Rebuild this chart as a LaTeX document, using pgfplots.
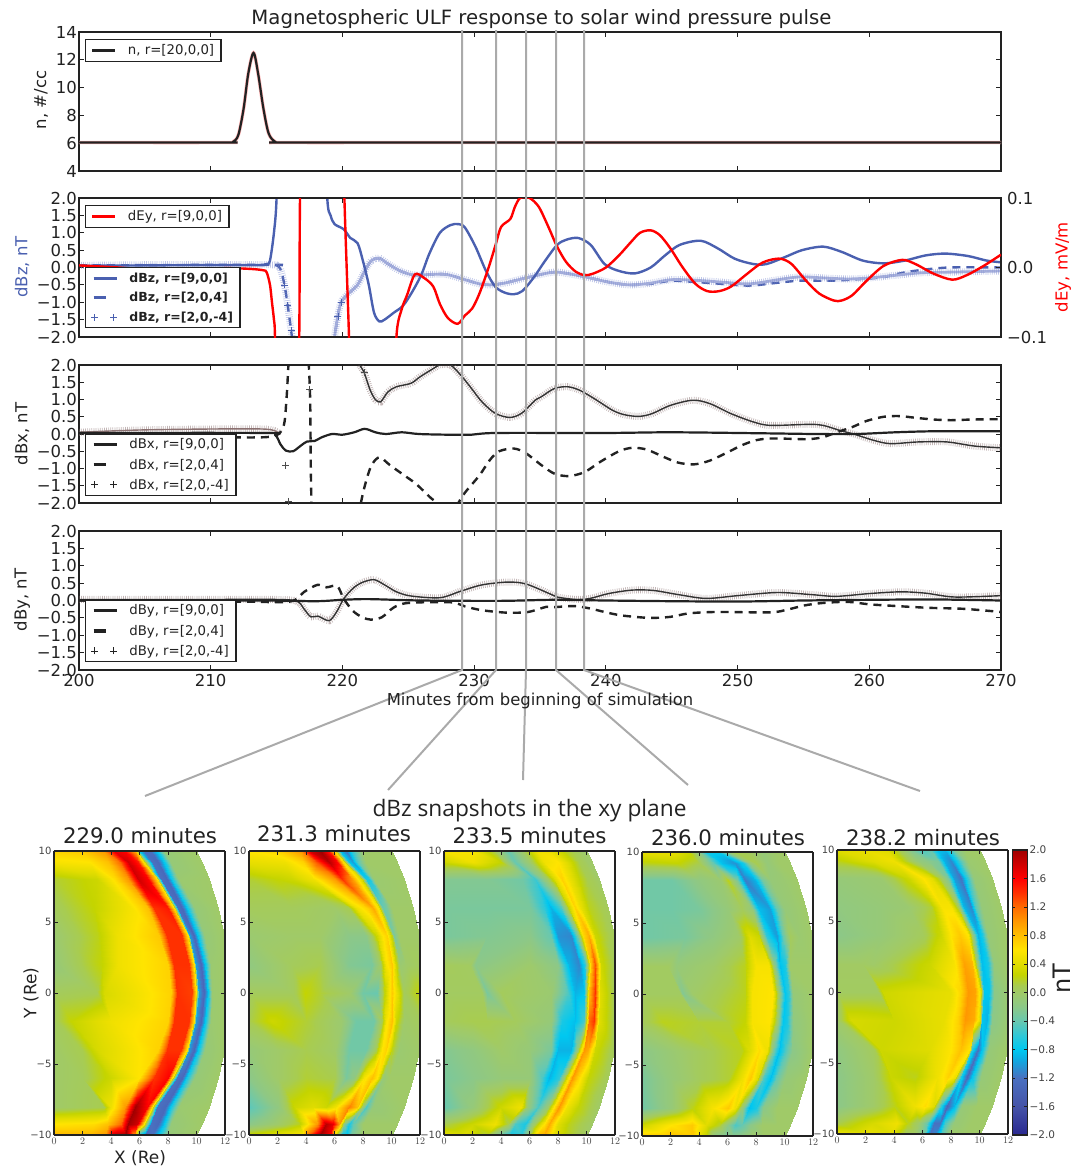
\documentclass[border=0pt]{standalone}
\usepackage{fontspec}
\usepackage{pgfplots}
\pgfplotsset{compat=1.18}
\setmainfont{DejaVu Sans}
\newfontfamily\snap{Open Sans}
\definecolor{ink}{HTML}{222222}
\definecolor{bz}{HTML}{4A60B0}
\definecolor{bzp}{HTML}{7F8ED0}
\definecolor{bzl}{HTML}{A9B2DD}
\definecolor{brn}{HTML}{8A7070}
\definecolor{grayl}{HTML}{AAAAAA}
\newcommand\fs[1]{\fontsize{#1}{#1}\selectfont}
\newcommand\lgsolid[1]{\addlegendimage{legend image code/.code={\draw[line width=3pt,#1](0pt,0pt)--(23pt,0pt);\path(33pt,0pt);}}}
\newcommand\lgdash[1]{\addlegendimage{legend image code/.code={\draw[line width=3.5pt,#1](0pt,0pt)--(12pt,0pt);\path(33pt,0pt);}}}
\newcommand\lgplus[1]{\addlegendimage{legend image code/.code={\draw[line width=.7pt,#1](-2.5pt,0pt)--(4.5pt,0pt)(1pt,-3.5pt)--(1pt,3.5pt)(16.5pt,0pt)--(23.5pt,0pt)(20pt,-3.5pt)--(20pt,3.5pt);\path(33pt,0pt);}}}
\pgfplotsset{
 top/.style={scale only axis,width=922pt,height=139pt,anchor=south west,
  xmin=200,xmax=270,xtick={200,210,...,270},xticklabels={},
  tick align=inside,major tick length=5pt,
  axis line style={line width=2pt,color=ink},
  every tick/.style={line width=.9pt,color=ink},
  tick label style={font=\fs{16.5},color=ink},
  yticklabel style={xshift=1.5pt},
  legend cell align=left,
  legend style={draw=ink,line width=1.5pt,fill=white,font=\fs{13.3},text=ink,
    row sep=4.5pt,inner xsep=5pt,inner ysep=3pt,cells={anchor=west}}},
 dby/.style={ymin=-2,ymax=2,ytick={-2,-1.5,...,2},
   yticklabels={−2.0,−1.5,−1.0,−0.5,0.0,0.5,1.0,1.5,2.0}},
 lg/.style={legend style={at={(0.0065,#1)},anchor=north west}},
 sol/.style={forget plot,smooth,line width=2.4pt,color=#1},
 das/.style={forget plot,smooth,line width=2.4pt,color=#1,dash pattern=on 8pt off 6pt},
 hat/.style={forget plot,smooth,line width=7pt,color=#1,opacity=.5,dash pattern=on .7pt off 1.4pt},
 thn/.style={forget plot,smooth,line width=1.4pt,color=#1},
 crs/.style={forget plot,only marks,mark=+,mark size=3.5pt,mark options={line width=.6pt,color=#1}},
 heat/.style={scale only axis,width=171pt,height=284pt,anchor=south west,view={0}{90},
  xmin=0,xmax=12,ymin=-10,ymax=10,zmin=-3,zmax=3,ztick=\empty,
  xtick={0,2,...,12},ytick={-10,-5,0,5,10},yticklabels={−10,−5,0,5,10},
  tick align=inside,major tick length=4pt,axis on top,
  axis line style={line width=1.5pt,color=ink},
  every tick/.style={line width=.8pt,color=ink},
  tick label style={font=\fs{10},color=ink!85},
  xticklabel style={yshift=.5pt},yticklabel style={xshift=1pt},
  colormap name=dbz,point meta=z,point meta min=-2,point meta max=2},
 htm/.style={surf,shader=interp,mesh/cols=12,mesh/rows=13},
 colormap={dbz}{rgb255(0pt)=(42,40,144) rgb255(4pt)=(70,84,168) rgb255(8pt)=(74,112,192)
  rgb255(10.5pt)=(16,168,224) rgb255(12pt)=(0,200,240) rgb255(14pt)=(48,200,216)
  rgb255(16pt)=(104,200,176) rgb255(18pt)=(140,200,136) rgb255(20pt)=(160,202,104)
  rgb255(21pt)=(168,204,80) rgb255(22.5pt)=(196,212,0) rgb255(24pt)=(224,220,0)
  rgb255(26pt)=(255,228,0) rgb255(28pt)=(255,192,0) rgb255(30pt)=(255,152,0)
  rgb255(32pt)=(255,106,0) rgb255(34pt)=(255,48,0) rgb255(36pt)=(255,0,0)
  rgb255(38pt)=(208,0,0) rgb255(40pt)=(160,0,0)},
}
\begin{document}
\begin{tikzpicture}
\path[use as bounding box] (0pt,0pt) rectangle (1084pt,-1168pt);

% ---------- panel 1
\begin{axis}[top,at={(79pt,-171pt)},ymin=4,ymax=14,ytick={4,6,...,14},yticklabels={4,6,8,10,12,14},lg=0.95]
\def\pl{(200,6.05)(211.2,6.05)(211.7,6.1)(212.1,6.6)(212.5,8.5)(212.85,11)(213.25,12.5)(213.6,11)(214,8.5)(214.4,6.7)(214.9,6.1)(215.5,6.05)(230,6.05)(270,6.05)}
\addplot[sol=red!30,line width=3.4pt] coordinates {\pl};
\addplot[sol=ink,line width=2.2pt] coordinates {\pl};
\lgsolid{color=ink}\addlegendentry{n, r=[20,0,0]}
\end{axis}

% ---------- panel 2, left scale
\begin{axis}[top,dby,at={(79pt,-337pt)},ytick pos=left]
\addplot[das=bz] coordinates {(200,0.06)(214.5,0.08)(215.05,0.05)(215.3,-0.05)(215.6,-0.5)(215.85,-1.1)(216.1,-1.8)(216.3,-2.4)};
\addplot[das=bz] coordinates {(219.2,-2.6)(219.4,-2)(219.65,-1.4)(219.9,-1)(220.45,-0.75)(221.15,-0.5)(221.7,-0.1)(222.2,0.2)(222.8,0.27)(223.4,0.12)(224.4,-0.1)(225.45,-0.22)(226.6,-0.2)(227.9,-0.2)(229.3,-0.35)(230.4,-0.47)(231.2,-0.5)(232.3,-0.45)(233.9,-0.3)(235.3,-0.18)(236.2,-0.13)(237.5,-0.2)(238.8,-0.3)(240.2,-0.42)(241.8,-0.5)(243.4,-0.47)(245,-0.38)(246.9,-0.42)(248.8,-0.47)(250.9,-0.52)(253,-0.44)(254.7,-0.38)(257,-0.38)(259,-0.34)(261,-0.28)(263,-0.12)(266,0)(270,0)};
\addplot[hat=bzp] coordinates {(200,0.06)(205,0.08)(210,0.08)(214.5,0.08)(215.05,0.05)(215.3,-0.05)(215.6,-0.5)(215.85,-1.1)(216.1,-1.8)(216.3,-2.4)};
\def\pl{(219.2,-2.6)(219.4,-2)(219.65,-1.4)(219.9,-1)(220.45,-0.75)(221.15,-0.5)(221.7,-0.1)(222.2,0.2)(222.8,0.27)(223.4,0.12)(224.4,-0.1)(225.45,-0.22)(226.6,-0.2)(227.9,-0.2)(229.3,-0.35)(230.4,-0.47)(231.2,-0.5)(232.3,-0.45)(233.9,-0.3)(235.3,-0.18)(236.2,-0.13)(237.5,-0.2)(238.8,-0.3)(240.2,-0.42)(241.8,-0.5)(243.4,-0.45)(245,-0.35)(246.9,-0.37)(248.8,-0.42)(250.9,-0.47)(253.1,-0.35)(254.7,-0.27)(256.5,-0.3)(258.4,-0.33)(260,-0.3)(262.1,-0.22)(264,-0.15)(266.5,-0.13)(270,-0.1)}
\addplot[thn=bzl,line width=2.8pt] coordinates {\pl};
\addplot[hat=bzp] coordinates {\pl};
\addplot[crs=bz] coordinates {(215.6,-0.5)(215.85,-1.1)(216.1,-1.8)(219.65,-1.4)(219.9,-1)};
\addplot[sol=bz] coordinates {(200,0.05)(210,0.07)(214,0.07)(214.25,0.1)(214.5,0.2)(214.8,1)(215,2)(215.2,5)(218.6,5)(218.85,2)(219.1,1.5)(219.4,1.25)(220.1,1.1)(220.6,0.85)(221.15,0.7)(221.55,0.2)(222,-0.5)(222.4,-1.3)(222.8,-1.55)(223.2,-1.5)(223.9,-1.3)(224.6,-1.1)(225.3,-0.7)(226,-0.2)(226.6,0.4)(227.4,1)(228.2,1.22)(228.8,1.25)(229.3,1.15)(230.1,0.6)(230.9,-0.1)(231.6,-0.55)(232.3,-0.72)(233,-0.77)(233.65,-0.68)(234.5,-0.3)(235.4,0.2)(236.3,0.65)(237,0.8)(237.9,0.85)(238.85,0.65)(239.9,0.1)(241,-0.1)(242.2,-0.17)(243.4,0)(244.5,0.35)(245.6,0.65)(247.2,0.77)(248.5,0.55)(249.8,0.25)(251.2,0.1)(252.2,0.1)(253.6,0.3)(254.9,0.5)(256.5,0.6)(257.9,0.45)(259.5,0.2)(261.1,0.12)(262.7,0.2)(264.3,0.35)(265.8,0.4)(267.5,0.33)(268.9,0.2)(270,0.15)};
\end{axis}

% ---------- panel 2, right scale
\begin{axis}[top,at={(79pt,-337pt)},ymin=-0.1,ymax=0.1,ytick={-0.1,0,0.1},yticklabels={−0.1,0.0,0.1},
  ytick pos=right,xmajorticks=false,yticklabel style={xshift=1pt},lg=0.95]
\addplot[sol=red,line width=2.4pt] coordinates {(200,0.003)(203,0)(205,-0.003)(208,-0.004)(211,-0.001)(213,-0.002)(214,-0.004)(214.25,-0.007)(214.5,-0.025)(214.65,-0.05)(214.8,-0.075)(214.88,-0.1)(215,-0.25)(216.5,-0.25)(216.72,-0.1)(216.78,0.1)(217,0.25)(220,0.25)(220.15,0.1)(220.5,-0.1)(220.7,-0.25)(223.9,-0.25)(224.1,-0.1)(224.5,-0.06)(224.9,-0.04)(225.5,-0.01)(226.2,-0.015)(226.9,-0.0275)(227.4,-0.0525)(228,-0.0725)(228.75,-0.081)(229.3,-0.069)(229.85,-0.059)(230.4,-0.0375)(231.1,0)(231.65,0.034)(232.05,0.0585)(232.75,0.07)(233.1,0.0875)(233.5,0.1)(234.2,0.1)(234.9,0.0875)(235.6,0.06)(236.3,0.03)(237,0.0075)(237.75,-0.0065)(238.4,-0.011)(239,-0.009)(240,0)(241,0.0175)(241.9,0.0365)(242.6,0.05)(243.4,0.0535)(244.1,0.0465)(244.9,0.0275)(245.8,0.001)(246.8,-0.0235)(247.7,-0.034)(248.6,-0.034)(249.5,-0.0275)(250.6,-0.011)(251.7,0.005)(252.5,0.011)(253.3,0.0125)(254.1,0.005)(255.2,-0.019)(256.2,-0.0375)(257.3,-0.0475)(257.9,-0.0475)(258.7,-0.04)(259.8,-0.019)(261.1,0.0025)(262.5,0.011)(263.5,0.005)(264.9,-0.009)(266.3,-0.0175)(267.4,-0.011)(268.7,0.0025)(270,0.0185)};
\lgsolid{color=red}\addlegendentry{dEy, r=[9,0,0]}
\end{axis}
% legend of the blue series, above the red line
\begin{axis}[top,at={(79pt,-337pt)},hide axis,ymin=-2,ymax=2,lg=0.504,legend style={font=\fs{12.5}\bfseries}]
\lgsolid{color=bz}\addlegendentry{dBz, r=[9,0,0]}
\lgdash{color=bz}\addlegendentry{dBz, r=[2,0,4]}
\lgplus{color=bz}\addlegendentry{dBz, r=[2,0,-4]}
\end{axis}

% ---------- panel 3
\begin{axis}[top,dby,at={(79pt,-503pt)},height=138pt,lg=0.507]
\addplot[hat=brn] coordinates {(200,0.05)(205,0.12)(212,0.15)(214.5,0.13)(215.3,0)};
\addplot[thn=brn] coordinates {(200,0.05)(205,0.12)(212,0.15)(214.5,0.13)(215.3,0)};
\def\pl{(221.3,2)(221.65,1.78)(222.1,1.28)(222.5,1)(222.9,0.93)(223.45,1.22)(224.1,1.37)(225.2,1.47)(225.9,1.66)(226.7,1.85)(227.4,2)(228.2,2)(229,1.7)(229.8,1.32)(230.6,0.93)(231.6,0.6)(232.7,0.48)(233.6,0.6)(234.7,1)(235.1,1.08)(236.1,1.32)(237.1,1.37)(238,1.27)(239.1,1.03)(240.5,0.69)(241.4,0.56)(242.5,0.51)(243.5,0.59)(244.9,0.83)(246.6,0.98)(247.9,0.88)(249.5,0.59)(251.2,0.35)(252.5,0.25)(255.4,0.28)(256.5,0.25)(257.8,0.1)(258.9,-0.01)(260.3,-0.18)(261.6,-0.28)(263.7,-0.23)(265.9,-0.23)(268,-0.35)(270,-0.4)}
\addplot[hat=brn] coordinates {\pl};
\addplot[thn=black!80] coordinates {\pl};
\addplot[crs=black!70] coordinates {(215.7,-0.9)(215.9,-1.95)(217.5,1.3)(221.65,1.78)};
\addplot[das=ink] coordinates {(200,0.03)(205,0)(210,-0.08)(214.5,-0.08)(215.5,0.2)(215.75,1)(215.9,2)(216,2.5)};
\addplot[das=ink] coordinates {(217.4,2.5)(217.45,2)(217.55,1)(217.6,-1)(217.65,-2)(217.7,-2.5)};
\addplot[das=ink] coordinates {(221.25,-2.4)(221.4,-2)(221.7,-1.5)(222.1,-1)(222.5,-0.75)(222.9,-0.68)(223.6,-0.9)(224.7,-1.2)(225.6,-1.45)(226.7,-1.85)(227.2,-2)(227.7,-2.3)(228.4,-2.3)(228.8,-2)(229.3,-1.7)(230.4,-1.2)(231.2,-0.75)(231.9,-0.5)(233,-0.42)(233.9,-0.55)(235.1,-0.9)(236.1,-1.15)(237.2,-1.22)(238.4,-1.1)(239.6,-0.8)(241,-0.5)(242,-0.4)(243.1,-0.45)(244.3,-0.65)(245.5,-0.83)(246.7,-0.88)(247.9,-0.77)(249.3,-0.52)(250.3,-0.33)(251.4,-0.18)(252.5,-0.13)(254.1,-0.14)(255.4,-0.15)(256.5,-0.09)(257.6,0.06)(258.7,0.2)(259.8,0.38)(261.1,0.5)(262.3,0.52)(263.5,0.47)(264.9,0.42)(266.2,0.4)(267.8,0.42)(270,0.43)};
\addplot[sol=ink,line width=2.2pt] coordinates {(200,0.03)(214,0.03)(214.9,-0.03)(215.3,-0.3)(215.7,-0.48)(216.25,-0.5)(216.8,-0.35)(217.3,-0.22)(217.9,-0.2)(218.4,-0.1)(219.2,0)(220,-0.02)(220.9,0.05)(221.7,0.15)(222.5,0.05)(223.3,0)(224.5,0.05)(225.8,0)(228,-0.02)(229.8,-0.02)(231.7,0.03)(240,0.03)(245,0.05)(252,0.02)(256,0)(259,0)(262,0.05)(265,0.08)(270,0.08)};
\lgsolid{color=ink}\addlegendentry{dBx, r=[9,0,0]}
\lgdash{color=ink}\addlegendentry{dBx, r=[2,0,4]}
\lgplus{color=ink}\addlegendentry{dBx, r=[2,0,-4]}
\end{axis}

% ---------- panel 4
\begin{axis}[top,dby,at={(79pt,-670pt)},lg=0.51,xticklabels={200,210,220,230,240,250,260,270},xticklabel style={yshift=-1pt}]
\def\pl{(200,0.03)(210,0.03)(215,0.03)(216.55,-0.02)(217.1,-0.25)(217.6,-0.47)(218.15,-0.45)(219,-0.58)(219.6,-0.3)(220.1,0.05)(220.8,0.35)(221.5,0.52)(222.4,0.6)(223.2,0.45)(224.1,0.25)(225.2,0.13)(227.4,0.08)(229,0.27)(230.6,0.45)(232.5,0.53)(233.9,0.48)(235.7,0.2)(236.3,0.1)(237.7,0.03)(238.8,0.06)(240.2,0.2)(242,0.3)(243.6,0.29)(245.5,0.17)(247.6,0.06)(250,0.14)(253,0.23)(255.6,0.17)(257.5,0.12)(260,0.2)(262.4,0.25)(264.3,0.21)(266.5,0.1)(270,0.14)}
\addplot[hat=brn] coordinates {\pl};
\addplot[thn=black!80] coordinates {\pl};
\addplot[das=ink] coordinates {(200,0)(212,-0.03)(216,-0.03)(217.1,0.25)(218.1,0.45)(218.8,0.38)(219.6,0.42)(220.1,0.05)(220.8,-0.3)(221.5,-0.48)(222.15,-0.55)(223,-0.48)(223.9,-0.2)(225,-0.07)(228.2,-0.05)(229.3,-0.17)(230.6,-0.28)(232.5,-0.35)(234.1,-0.33)(235.5,-0.18)(236.1,-0.19)(237.6,-0.16)(238.8,-0.23)(239.9,-0.33)(241.2,-0.43)(243.3,-0.5)(244.9,-0.47)(246.3,-0.37)(248.4,-0.33)(252.5,-0.34)(253.8,-0.26)(255.1,-0.14)(256.5,-0.07)(258.4,-0.04)(260,-0.11)(262.1,-0.16)(264.5,-0.21)(267.2,-0.24)(270,-0.33)};
\addplot[sol=ink,line width=2.2pt] coordinates {(200,0)(214,0)(218,-0.02)(220,0.02)(222,0.04)(226,0)(232,-0.01)(236,0.02)(240,0)(245,-0.02)(250,-0.03)(255,0)(260,0.02)(265,0.03)(270,0)};
\lgsolid{color=ink}\addlegendentry{dBy, r=[9,0,0]}
\lgdash{color=ink}\addlegendentry{dBy, r=[2,0,4]}
\lgplus{color=ink}\addlegendentry{dBy, r=[2,0,-4]}
\end{axis}

% ---------- snapshots
\begin{axis}[heat,at={(54pt,-1135pt)}]
\addplot3[htm] table[row sep=\\,header=false]{
0 10 .7\\2 10 .75\\3.5 10 1\\4.2 10 1.7\\5 10 1.6\\5.7 10 .9\\6 10 -.7\\6.3 10 -1.2\\6.8 10 -1.2\\7.3 10 -.7\\7.7 10 -.1\\10 10 0\\
0 9.2 .55\\2.5 9.2 .6\\3.8 9.2 .8\\4.6 9.2 1.2\\5.2 9.2 1.8\\5.9 9.2 1.5\\6.4 9.2 .3\\6.9 9.2 -1.2\\7.3 9.2 -1.3\\7.7 9.2 -.8\\8.2 9.2 -.1\\10.4 9.2 0\\
0 8 .15\\3 8 .3\\4.3 8 .65\\5.2 8 1\\5.9 8 1.8\\6.6 8 1.6\\7.2 8 .6\\7.5 8 -1.2\\7.9 8 -1.3\\8.3 8 -.7\\8.8 8 -.05\\10.9 8 0\\
0 6 .05\\2.8 6 .25\\5.5 6 .55\\6.6 6 .8\\7 6 1.4\\8 6 1.5\\8.4 6 .6\\8.7 6 -1.2\\9 6 -1.3\\9.4 6 -.7\\9.9 6 -.1\\11.5 6 0\\
0 4 -.05\\3 4 .2\\4.5 4 .5\\7.4 4 .75\\7.9 4 1.4\\9 4 1.4\\9.4 4 .6\\9.55 4 -1\\9.8 4 -1.3\\10.1 4 -.8\\10.6 4 -.1\\11.9 4 0\\
0 2 -.1\\3.4 2 .25\\4.5 2 .5\\8 2 .7\\8.4 2 1.4\\9.5 2 1.4\\9.85 2 .6\\10 2 -1\\10.3 2 -1.3\\10.6 2 -.8\\11 2 -.05\\12 2 0\\
0 0 .05\\3 0 .1\\3.5 0 .35\\8.2 0 .7\\8.6 0 1.4\\9.7 0 1.35\\10 0 .6\\10.2 0 -1\\10.5 0 -1.3\\10.8 0 -.8\\11.1 0 -.05\\12 0 0\\
0 -2 .05\\1.2 -2 .25\\4 -2 .5\\8 -2 .7\\8.4 -2 1.4\\9.5 -2 1.4\\9.85 -2 .6\\10 -2 -1\\10.3 -2 -1.3\\10.6 -2 -.8\\11 -2 -.05\\12 -2 0\\
0 -4 0\\2 -4 .1\\3 -4 .35\\7.3 -4 .7\\7.9 -4 1.4\\8.9 -4 1.4\\9.35 -4 .6\\9.5 -4 -1\\9.8 -4 -1.3\\10.1 -4 -.8\\10.6 -4 -.1\\11.9 -4 0\\
0 -6 0\\2 -6 .05\\4 -6 .3\\6 -6 .6\\7 -6 1.4\\8 -6 1.6\\8.3 -6 .6\\8.6 -6 -1.2\\8.95 -6 -1.3\\9.3 -6 -.7\\9.9 -6 -.1\\11.5 -6 0\\
0 -8 0\\3.5 -8 .1\\4 -8 .5\\5 -8 1\\5.7 -8 2\\6.5 -8 1.6\\6.9 -8 .6\\7.2 -8 -1.2\\7.8 -8 -1.3\\8.2 -8 -.7\\8.8 -8 -.05\\10.9 -8 0\\
0 -9.2 .6\\2.8 -9.2 .65\\3.8 -9.2 .8\\4.7 -9.2 1.2\\5.2 -9.2 2\\5.8 -9.2 1.8\\6.3 -9.2 .6\\6.8 -9.2 -1.2\\7.3 -9.2 -1.3\\7.7 -9.2 -.8\\8.2 -9.2 -.1\\10.4 -9.2 0\\
0 -10 .85\\2.5 -10 .85\\3.6 -10 1\\4.2 -10 1.9\\5 -10 2\\5.6 -10 1\\6 -10 -.7\\6.4 -10 -1.3\\6.9 -10 -1.2\\7.4 -10 -.7\\8 -10 -.1\\10 -10 0\\
};
\end{axis}

\begin{axis}[heat,at={(249pt,-1135pt)}]
\addplot3[htm] table[row sep=\\,header=false]{
0 10 .6\\2 10 .7\\3.6 10 1\\4.3 10 1.8\\5 10 2\\5.6 10 1.5\\6 10 .5\\6.4 10 -.8\\6.8 10 -1.2\\7.2 10 -.6\\8 10 0\\10 10 0\\
0 9.2 .45\\2.5 9.2 .5\\3.8 9.2 .7\\4.8 9.2 1.3\\5.6 9.2 1.9\\6.2 9.2 1.6\\6.7 9.2 .5\\7 9.2 -.8\\7.3 9.2 -1\\7.6 9.2 -.5\\8.2 9.2 0\\10.4 9.2 0\\
0 8 .15\\2 8 .25\\3 8 .3\\4.5 8 .5\\6 8 1\\6.5 8 1.4\\7.2 8 1\\7.9 8 .3\\8.2 8 -.7\\8.4 8 -.7\\8.8 8 -.05\\10.9 8 0\\
0 6 .05\\3 6 .05\\6 6 0\\7 6 .1\\7.6 6 .5\\8.3 6 .7\\8.7 6 .9\\9.1 6 .5\\9.4 6 -.4\\9.7 6 -.3\\10 6 0\\11.5 6 0\\
0 4 -.05\\3 4 0\\5 4 0\\7 4 -.2\\8.2 4 -.2\\9 4 .3\\9.4 4 .6\\9.7 4 .7\\10 4 .2\\10.2 4 -.3\\10.5 4 0\\11.9 4 0\\
0 2 -.15\\3 2 .05\\5 2 .1\\7 2 -.25\\8.6 2 -.3\\9.2 2 0\\9.6 2 .55\\10 2 .75\\10.3 2 .3\\10.6 2 -.05\\11 2 0\\12 2 .05\\
0 0 .05\\3.1 0 .05\\3.9 0 .25\\5 0 .15\\7 0 0\\8 0 -.35\\9 0 -.4\\9.5 0 .2\\10 0 .75\\10.3 0 .5\\10.9 0 .05\\12 0 .25\\
0 -2 .1\\1.6 -2 .3\\4 -2 .15\\6.5 -2 -.05\\7.5 -2 -.35\\8.8 -2 -.35\\9.3 -2 .1\\9.6 -2 .55\\10 -2 .8\\10.3 -2 .3\\10.9 -2 0\\12 -2 .05\\
0 -4 -.1\\2 -4 0\\4 -4 .1\\6 -4 0\\7 -4 -.35\\8.2 -4 -.35\\8.9 -4 .1\\9.3 -4 .6\\9.6 -4 .7\\10 -4 .2\\10.5 -4 -.05\\11.9 -4 0\\
0 -6 -.2\\2 -6 0\\4 -6 .15\\6 -6 .1\\6.8 -6 -.3\\7.4 -6 -.15\\8.1 -6 .55\\8.6 -6 .8\\9 -6 .6\\9.4 -6 -.1\\9.8 -6 0\\11.5 -6 0\\
0 -8 -.45\\2 -8 -.15\\3.2 -8 .3\\4.5 -8 .4\\5.4 -8 .3\\6 -8 .5\\7 -8 1.1\\7.6 -8 .8\\7.9 -8 0\\8.2 -8 -.5\\8.7 -8 -.1\\10.9 -8 0\\
0 -9.2 -.2\\2 -9.2 0\\3.5 -9.2 .2\\4.8 -9.2 1\\5.4 -9.2 1.9\\5.9 -9.2 1.7\\6.3 -9.2 1\\6.7 -9.2 -.2\\7 -9.2 -.7\\7.3 -9.2 -.4\\8 -9.2 0\\10.4 -9.2 0\\
0 -10 .3\\2.5 -10 .5\\3.8 -10 .6\\4.3 -10 1.3\\5 -10 2\\5.7 -10 1.6\\6 -10 .4\\6.5 -10 -.7\\6.8 -10 -.8\\7.2 -10 -.3\\8 -10 0\\10 -10 0\\
};
\end{axis}

\begin{axis}[heat,at={(444pt,-1135pt)}]
\addplot3[htm] table[row sep=\\,header=false]{
0 10 .55\\2 10 .55\\3.5 10 .1\\4.5 10 -.4\\5.5 10 0\\6.5 10 .5\\7.4 10 .5\\8.5 10 .2\\9.3 10 .05\\9.6 10 0\\9.8 10 0\\10 10 0\\
0 9.2 .3\\2 9.2 .5\\4 9.2 .25\\5 9.2 -.4\\6 9.2 0\\7 9.2 .5\\8 9.2 .6\\8.9 9.2 .3\\9.5 9.2 .1\\9.8 9.2 .05\\10.1 9.2 0\\10.4 9.2 0\\
0 8 -.25\\3 8 -.25\\5.5 8 -.35\\6.4 8 -.55\\7.1 8 -.1\\7.8 8 .4\\8.3 8 .7\\8.8 8 .5\\9.5 8 .25\\10 8 .1\\10.5 8 .05\\10.9 8 0\\
0 6 -.3\\3 6 -.3\\6 6 -.3\\7 6 -.6\\7.5 6 -.9\\8.2 6 -.5\\8.8 6 .3\\9.2 6 .7\\9.6 6 .45\\10.2 6 .2\\11 6 .1\\11.5 6 .05\\
0 4 -.3\\3 4 -.25\\6 4 -.2\\7.5 4 -.4\\8 4 -1.05\\8.9 4 -1.1\\9.3 4 -.4\\9.8 4 .7\\10.2 4 .9\\10.6 4 .3\\11.2 4 .15\\11.9 4 .05\\
0 2 .05\\1.8 2 .03\\2.2 2 -.2\\6 2 -.02\\8 2 -.2\\8.8 2 -.9\\9.5 2 -1.1\\9.9 2 -.6\\10.3 2 .8\\10.6 2 1.3\\11 2 .3\\12 2 .05\\
0 0 .03\\2.7 0 .03\\3 0 -.3\\4 0 .05\\7.5 0 -.05\\8.7 0 -.5\\9.2 0 -.9\\9.8 0 -.8\\10.2 0 .8\\10.6 0 1.4\\10.95 0 .4\\12 0 .05\\
0 -2 .05\\2 -2 .1\\3 -2 .1\\5 -2 .05\\7.5 -2 -.1\\8.3 -2 -.7\\9.2 -2 -.85\\9.8 -2 -.5\\10.2 -2 1.2\\10.5 -2 1.4\\10.9 -2 .4\\12 -2 .05\\
0 -4 -.25\\2 -4 -.15\\4 -4 0\\6 -4 -.1\\7.5 -4 -.3\\8 -4 -.9\\8.9 -4 -.9\\9.3 -4 -.1\\9.8 -4 1\\10.1 -4 .9\\10.6 -4 .3\\11.9 -4 .05\\
0 -6 -.3\\2 -6 -.2\\4 -6 -.1\\6 -6 -.1\\6.9 -6 -.5\\7.4 -6 -.9\\8.1 -6 -.6\\8.6 -6 .4\\9 -6 1\\9.4 -6 .7\\10.1 -6 .25\\11.5 -6 .05\\
0 -8 -.4\\2 -8 -.1\\4 -8 .3\\5.4 -8 .5\\5.9 -8 -.1\\6.6 -8 -.5\\7.2 -8 -.1\\7.7 -8 .6\\8.1 -8 1\\8.6 -8 .5\\9.4 -8 .25\\10.9 -8 0\\
0 -9.2 .1\\2 -9.2 .3\\3.6 -9.2 .5\\4.5 -9.2 .1\\5 -9.2 -.5\\5.7 -9.2 -.7\\6.2 -9.2 -.1\\7 -9.2 .6\\7.4 -9.2 .9\\8 -9.2 .4\\8.8 -9.2 .2\\10.4 -9.2 0\\
0 -10 .45\\1.5 -10 .4\\3 -10 .15\\4 -10 -.4\\4.6 -10 -.7\\5.4 -10 -.6\\6 -10 .1\\6.6 -10 .8\\7 -10 .9\\7.8 -10 .4\\8.6 -10 .2\\10 -10 0\\
};
\end{axis}

\begin{axis}[heat,at={(642pt,-1136pt)}]
\addplot3[htm] table[row sep=\\,header=false]{
0 10 .45\\2 10 .45\\3.2 10 .3\\4 10 -.2\\4.5 10 -.7\\5.3 10 -.75\\6 10 -.1\\6.5 10 .1\\7.5 10 .05\\8.5 10 -.1\\9.5 10 0\\10 10 0\\
0 9.2 .2\\2.5 9.2 .25\\4 9.2 .1\\5 9.2 -.4\\5.6 9.2 -.85\\6.5 9.2 -1.05\\7.1 9.2 -.7\\7.6 9.2 -.1\\8 9.2 .1\\8.8 9.2 -.1\\9.6 9.2 0\\10.4 9.2 0\\
0 8 -.35\\2 8 -.35\\4 8 -.15\\5.5 8 -.05\\6 8 .2\\6.7 8 -.3\\7.2 8 -1.15\\7.9 8 -.9\\8.5 8 -.3\\9 8 -.1\\10 8 -.05\\10.9 8 0\\
0 6 -.35\\2 6 -.35\\4 6 -.3\\6 6 -.1\\7 6 .05\\7.7 6 -.1\\8.2 6 -.85\\9 6 -1\\9.5 6 -.4\\10 6 -.1\\10.8 6 -.05\\11.5 6 0\\
0 4 -.35\\3 4 -.3\\5 4 -.15\\6.8 4 0\\7.6 4 .4\\8.2 4 .3\\8.8 4 -.6\\9.5 4 -1\\9.9 4 -.4\\10.4 4 .05\\11 4 -.05\\11.9 4 0\\
0 2 .03\\1.8 2 .03\\2.4 2 -.1\\5 2 0\\7.2 2 .2\\8 2 .55\\8.9 2 .55\\9.3 2 -.2\\9.7 2 -.85\\10 2 -.7\\10.4 2 0\\12 2 0\\
0 0 .03\\2.7 0 .03\\2.9 0 -.25\\3.6 0 0\\7.2 0 .2\\7.7 0 .55\\9.2 0 .6\\9.7 0 -.2\\10 0 -.8\\10.3 0 -.6\\10.6 0 -.1\\12 0 0\\
0 -2 .05\\1.5 -2 .2\\4 -2 .15\\6 -2 .15\\7.2 -2 .25\\7.7 -2 .55\\9 -2 .6\\9.5 -2 0\\9.9 -2 -.8\\10.2 -2 -.7\\10.6 -2 -.15\\12 -2 0\\
0 -4 -.2\\3 -4 0\\5 -4 .1\\7 -4 .2\\7.6 -4 .4\\8.2 -4 .65\\8.8 -4 .5\\9.2 -4 -.3\\9.6 -4 -.85\\10 -4 -.5\\10.5 -4 -.2\\11.9 -4 0\\
0 -6 -.3\\2 -6 -.1\\4 -6 .05\\6 -6 .15\\7 -6 .5\\7.6 -6 .75\\8.1 -6 .4\\8.5 -6 -.5\\9 -6 -.85\\9.4 -6 -.4\\10 -6 -.1\\11.5 -6 0\\
0 -8 -.35\\2 -8 -.1\\3.5 -8 .2\\5 -8 .55\\6 -8 .75\\6.5 -8 .5\\7 -8 -.1\\7.5 -8 -.85\\8 -8 -.7\\8.5 -8 -.2\\9.5 -8 0\\10.9 -8 0\\
0 -9.2 .3\\2 -9.2 .6\\3.5 -9.2 .75\\4.5 -9.2 .4\\5.5 -9.2 .15\\6 -9.2 -.2\\6.5 -9.2 -.5\\7 -9.2 -.4\\7.6 -9.2 -.2\\8.4 -9.2 0\\9.5 -9.2 0\\10.4 -9.2 0\\
0 -10 .75\\2 -10 .8\\3.6 -10 .75\\4.5 -10 .25\\5.2 -10 -.2\\5.8 -10 -.3\\6.3 -10 -.2\\7 -10 -.15\\7.8 -10 0\\8.5 -10 0\\9.5 -10 0\\10 -10 0\\
};
\end{axis}

\begin{axis}[heat,at={(837pt,-1134pt)},colorbar,
  colorbar style={at={(1.024,1)},anchor=north west,width=15pt,height=285pt,
    ytick={-2,-1.6,...,2.01},yticklabels={−2.0,−1.6,−1.2,−0.8,−0.4,0.0,0.4,0.8,1.2,1.6,2.0},
    major tick length=3pt,yticklabel style={font=\fs{10.5},color=ink!85,xshift=-1pt},
    axis line style={line width=1.2pt,color=ink}}]
\addplot3[htm] table[row sep=\\,header=false]{
0 10 .4\\2 10 .45\\3.5 10 .4\\4.5 10 .05\\5.2 10 -.25\\5.8 10 -.5\\6.6 10 -.4\\7 10 -.8\\7.6 10 -.9\\8.2 10 -.3\\9 10 0\\10 10 0\\
0 9.2 .2\\2.5 9.2 .4\\4 9.2 .5\\4.8 9.2 .2\\5.7 9.2 -.1\\6.4 9.2 -.2\\7.1 9.2 -.3\\7.5 9.2 -.9\\8 9.2 -1.1\\8.6 9.2 -.5\\9.2 9.2 -.05\\10.4 9.2 0\\
0 8 -.1\\3 8 -.05\\5 8 .3\\6 8 .6\\6.6 8 .45\\7.2 8 .1\\7.8 8 -.3\\8.2 8 -1\\8.7 8 -1.2\\9.1 8 -.6\\9.6 8 -.1\\10.9 8 0\\
0 6 -.15\\3 6 -.1\\5 6 -.05\\6.6 6 .15\\7.4 6 .55\\8 6 .55\\8.5 6 .1\\8.9 6 -.9\\9.4 6 -1.1\\9.7 6 -.5\\10.2 6 -.1\\11.5 6 0\\
0 4 -.2\\3 4 -.1\\6 4 .05\\7.3 4 .3\\8 4 .6\\8.6 4 .75\\9.2 4 .6\\9.6 4 -.3\\9.9 4 -.9\\10.2 4 -.7\\10.6 4 -.1\\11.9 4 0\\
0 2 .02\\1.8 2 .02\\2.5 2 0\\6.5 2 .3\\8.2 2 .55\\8.9 2 .95\\9.5 2 .85\\9.9 2 -.2\\10.2 2 -.85\\10.6 2 -.7\\11 2 -.1\\12 2 0\\
0 0 .03\\2.9 0 .03\\3.2 0 .3\\8 0 .45\\8.7 0 .7\\9.2 0 1\\9.7 0 .95\\10.1 0 .4\\10.3 0 -.8\\10.7 0 -.8\\11 0 -.2\\12 0 -.05\\
0 -2 0\\1 -2 .35\\4 -2 .3\\7.5 -2 .45\\8.5 -2 .7\\9 -2 1\\9.6 -2 .9\\10 -2 .4\\10.2 -2 -.8\\10.5 -2 -.9\\10.9 -2 -.2\\12 -2 -.05\\
0 -4 -.15\\2.5 -4 .05\\3 -4 .3\\6.5 -4 .4\\8 -4 .6\\8.7 -4 .8\\9.3 -4 .6\\9.5 -4 -.6\\9.9 -4 -1.2\\10.2 -4 -.8\\10.7 -4 -.1\\11.9 -4 0\\
0 -6 -.2\\2.5 -6 0\\3.8 -6 .28\\5.5 -6 .2\\7 -6 .5\\7.8 -6 .7\\8.3 -6 .5\\8.7 -6 -.7\\9.1 -6 -1.3\\9.5 -6 -.8\\10.1 -6 -.1\\11.5 -6 0\\
0 -8 -.2\\2.5 -8 0\\4 -8 .2\\5.5 -8 .5\\6.2 -8 .65\\6.8 -8 .4\\7.3 -8 -.6\\7.7 -8 -1.3\\8.2 -8 -.9\\8.8 -8 -.1\\9.8 -8 0\\10.9 -8 0\\
0 -9.2 .1\\2.5 -9.2 .35\\4.2 -9.2 .5\\5 -9.2 .2\\5.7 -9.2 0\\6.3 -9.2 -.4\\6.8 -9.2 -1.2\\7.2 -9.2 -1.2\\7.6 -9.2 -.5\\8.2 -9.2 -.1\\9.4 -9.2 0\\10.4 -9.2 0\\
0 -10 .5\\2 -10 .45\\3.8 -10 .4\\4.8 -10 .05\\5.5 -10 0\\6.2 -10 -.4\\6.5 -10 -1.2\\6.9 -10 -1.1\\7.3 -10 -.5\\8 -10 0\\9 -10 0\\10 -10 0\\
};
\end{axis}

% ---------- connector lines and text
\begin{scope}[x=1pt,y=-1pt]
\draw[grayl,line width=2pt] (462,30)--(462,670)--(145,796);
\draw[grayl,line width=2pt] (496,30)--(496,670)--(388,790);
\draw[grayl,line width=2pt] (526,30)--(526,670)--(523,780);
\draw[grayl,line width=2pt] (556,30)--(556,670)--(688,785);
\draw[grayl,line width=2pt] (584,30)--(584,670)--(920,791);
\tikzset{every node/.style={text=ink,inner sep=0pt}}
\node[font=\fs{19.7}] at (541.5,19) {Magnetospheric ULF response to solar wind pressure pulse};
\node[font=\fs{16.4}] at (540,701) {Minutes from beginning of simulation};
\node[font=\fs{16.5},rotate=90] at (41,100) {n, \#/cc};
\node[font=\fs{16.5},rotate=90,text=bz] at (22,267) {dBz, nT};
\node[font=\fs{16.5},rotate=90,text=red] at (1063,267) {dEy, mV/m};
\node[font=\fs{16.5},rotate=90] at (22,434) {dBx, nT};
\node[font=\fs{16.5},rotate=90] at (22,600) {dBy, nT};
\node[font=\snap\fs{22.7}] at (529.5,811) {dBz snapshots in the xy plane};
\node[font=\fs{21.3}] at (140,836) {229.0 minutes};
\node[font=\fs{21.3}] at (334,834) {231.3 minutes};
\node[font=\fs{21.3}] at (529.5,836) {233.5 minutes};
\node[font=\fs{21.3}] at (728,838) {236.0 minutes};
\node[font=\fs{21.3}] at (923,838) {238.2 minutes};
\node[font=\fs{17},rotate=90] at (31,993) {Y (Re)};
\node[font=\fs{17}] at (140,1158) {X (Re)};
\node[font=\fs{24},rotate=90] at (1062,979) {nT};
\end{scope}
\end{tikzpicture}
\end{document}
